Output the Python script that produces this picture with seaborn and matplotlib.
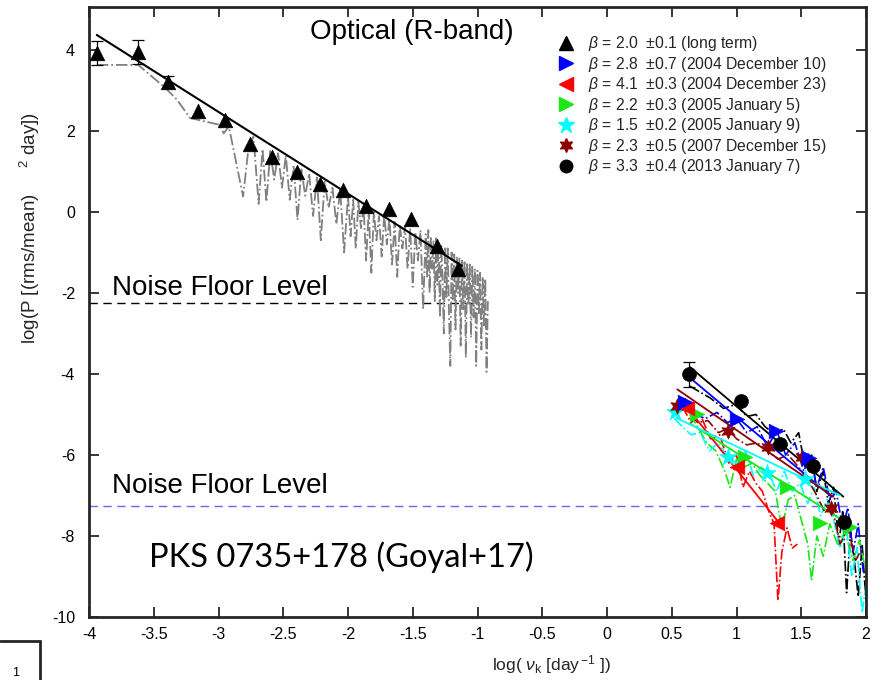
import numpy as np
import pandas as pd
import matplotlib
matplotlib.use("Agg")
import matplotlib.pyplot as plt
from matplotlib.lines import Line2D
import seaborn as sns

# ---------------- data ----------------
# long-term (binned) periodogram, optical R-band
lt_x = [-3.94, -3.62, -3.39, -3.16, -2.95, -2.76, -2.59, -2.39, -2.22, -2.04, -1.86, -1.68, -1.51, -1.31, -1.15]
lt_y = [3.93, 3.95, 3.21, 2.49, 2.27, 1.68, 1.36, 0.99, 0.69, 0.54, 0.15, 0.07, -0.17, -0.84, -1.41]
lt_err = [0.30, 0.30, 0.15, 0, 0, 0, 0, 0, 0, 0, 0, 0, 0, 0, 0]
lt_fit_x = [-3.94, -1.12]
lt_fit_y = [4.37, -1.33]

# raw long-term periodogram (grey dash-dot)
raw_x = [-3.94, -3.62, -3.41, -3.32, -3.22, -2.99, -2.96, -2.92, -2.81, -2.77,
         -2.73, -2.69, -2.66, -2.63, -2.60, -2.57, -2.54, -2.51, -2.48, -2.45,
         -2.42, -2.39, -2.36, -2.33, -2.30, -2.27, -2.24, -2.21, -2.18, -2.15,
         -2.12, -2.09, -2.06, -2.03, -2.00,
         -1.98, -1.96, -1.94, -1.92, -1.90, -1.88, -1.86, -1.84, -1.82, -1.80,
         -1.78, -1.76, -1.74, -1.72, -1.70, -1.68, -1.66, -1.64, -1.62, -1.60,
         -1.58, -1.56, -1.54, -1.52, -1.50, -1.48, -1.46, -1.44, -1.42, -1.40,
         -1.39, -1.38, -1.37, -1.36, -1.35, -1.34, -1.33, -1.32, -1.31, -1.30,
         -1.29, -1.28, -1.27, -1.26, -1.25, -1.24, -1.23, -1.22, -1.21, -1.20,
         -1.19, -1.18, -1.17, -1.16, -1.15, -1.14, -1.13, -1.12, -1.11, -1.10,
         -1.09, -1.08, -1.07, -1.06, -1.05, -1.04, -1.03, -1.02, -1.01, -1.00,
         -0.99, -0.98, -0.97, -0.96, -0.95, -0.94, -0.93, -0.92]
raw_y = [3.63, 3.63, 3.06, 2.77, 2.32, 2.15, 1.94, 2.11, 0.38, 1.53,
         1.86, 0.20, 1.55, 0.25, 1.50, 0.80, 1.45, 0.60, 1.40, 0.30,
         1.15, -0.20, 1.05, 0.40, 0.95, -0.10, 0.85, -0.70, 0.75, 0.10,
         0.60, -0.30, 0.55, -1.00, 0.40,
         -0.60, 0.30, -0.90, 0.25, -0.40, 0.15, -1.20, 0.05, -1.50, 0.00,
         -0.70, -0.10, -1.10, -0.05, -0.80, -0.15, -1.30, -0.25, -1.60, -0.30,
         -0.90, -0.35, -1.40, -0.40, -1.85, -0.50, -1.20, -0.45, -2.40, -0.55,
         -1.60, -0.45, -2.00, -0.60, -1.40, -0.70, -2.20, -0.65, -1.80, -0.75,
         -2.60, -0.80, -1.70, -3.00, -0.85, -2.10, -0.90, -2.50, -3.80, -1.00,
         -2.20, -1.05, -2.90, -1.10, -2.00, -1.15, -3.30, -1.20, -2.40, -1.20,
         -3.60, -1.25, -2.30, -1.30, -3.10, -1.35, -2.60, -1.40, -3.80, -1.45,
         -2.50, -1.50, -3.40, -1.60, -2.80, -1.65, -3.95, -2.20]

# intra-night sessions: binned points, fits, raw periodograms
bl_x = [0.636, 1.032, 1.336, 1.588, 1.83]
bl_y = [-4.01, -4.67, -5.73, -6.27, -7.65]
bl_err = [0.30, 0, 0, 0, 0]
bl_fit_x = [0.641, 1.825]
bl_fit_y = [-3.83, -7.03]
bl_raw_x = [0.64, 0.72, 0.80, 0.90, 1.00, 1.08, 1.15, 1.22, 1.30, 1.36, 1.42, 1.48, 1.53,
            1.58, 1.62, 1.67, 1.71, 1.75, 1.79, 1.82, 1.85, 1.88, 1.91, 1.94, 1.97, 2.0]
bl_raw_y = [-4.3, -4.45, -4.6, -4.85, -4.75, -5.05, -5.0, -5.3, -5.5, -5.35, -5.7, -5.45, -6.3,
            -6.0, -6.9, -6.4, -7.2, -6.8, -8.2, -7.4, -9.4, -7.9, -8.6, -9.5, -8.2, -9.6]

bu_x = [0.602, 1.0, 1.305, 1.562]
bu_y = [-4.68, -5.12, -5.40, -6.08]
bu_fit_x = [0.654, 1.735]
bu_fit_y = [-4.13, -7.03]
bu_raw_x = [0.60, 0.68, 0.76, 0.85, 0.93, 1.00, 1.08, 1.16, 1.24, 1.31, 1.38, 1.45,
            1.52, 1.57, 1.62, 1.67, 1.72, 1.77, 1.82, 1.86, 1.90, 1.94, 1.98]
bu_raw_y = [-4.6, -5.0, -5.1, -4.95, -5.2, -5.1, -5.45, -5.3, -5.8, -5.4, -6.0, -5.7,
            -6.4, -6.0, -6.8, -6.3, -7.1, -6.9, -7.8, -7.3, -8.4, -7.7, -8.9]

rd_x = [0.615, 1.0, 1.31]
rd_y = [-4.85, -6.29, -7.67]
rd_fit_x = [0.645, 1.31]
rd_fit_y = [-4.93, -7.6]
rd_raw_x = [0.58, 0.65, 0.72, 0.80, 0.87, 0.94, 1.00, 1.05, 1.10, 1.15, 1.20, 1.25,
            1.29, 1.32, 1.35, 1.39, 1.43, 1.47]
rd_raw_y = [-4.8, -5.2, -5.0, -5.6, -5.5, -6.2, -6.0, -6.8, -6.4, -6.7, -6.9, -7.4,
            -7.7, -9.6, -8.4, -7.8, -8.3, -8.2]

gr_x = [0.693, 1.066, 1.388, 1.645, 1.877]
gr_y = [-4.99, -6.04, -6.78, -7.67, -7.77]
gr_fit_x = [0.641, 1.877]
gr_fit_y = [-5.22, -7.73]
gr_raw_x = [0.64, 0.70, 0.77, 0.84, 0.91, 0.95, 1.00, 1.06, 1.12, 1.18, 1.24, 1.30, 1.35,
            1.40, 1.45, 1.50, 1.55, 1.58, 1.62, 1.67, 1.72, 1.78, 1.84, 1.90, 1.95, 2.0]
gr_raw_y = [-5.0, -5.3, -5.7, -5.9, -6.4, -6.8, -6.1, -6.3, -6.2, -6.5, -6.7, -6.9, -7.8,
            -7.1, -7.0, -7.6, -8.2, -9.1, -8.0, -8.5, -7.7, -8.2, -7.9, -8.6, -8.1, -8.9]

cy_x = [0.525, 0.937, 1.233, 1.53]
cy_y = [-4.93, -6.04, -6.45, -6.60]
cy_fit_x = [0.538, 1.80]
cy_fit_y = [-5.09, -7.0]
cy_raw_x = [0.52, 0.58, 0.65, 0.72, 0.79, 0.86, 0.93, 1.00, 1.07, 1.13, 1.19, 1.25, 1.31, 1.37,
            1.43, 1.49, 1.55, 1.60, 1.65, 1.70, 1.75, 1.80, 1.85, 1.89, 1.93, 1.97, 2.0]
cy_raw_y = [-5.1, -5.3, -5.5, -5.45, -5.9, -5.7, -6.05, -6.2, -5.9, -6.5, -6.3, -6.45, -6.9, -6.4,
            -6.9, -6.7, -7.2, -6.8, -7.5, -7.1, -7.6, -8.3, -7.8, -9.0, -8.3, -9.9, -9.2]

mr_x = [0.543, 0.937, 1.246, 1.503, 1.727]
mr_y = [-4.79, -5.42, -5.81, -6.04, -7.32]
mr_fit_x = [0.543, 1.748]
mr_fit_y = [-4.38, -7.03]
mr_raw_x = [0.54, 0.62, 0.70, 0.78, 0.86, 0.93, 1.00, 1.08, 1.16, 1.24, 1.32, 1.40, 1.48,
            1.55, 1.62, 1.68, 1.74, 1.80, 1.86, 1.92, 1.97]
mr_raw_y = [-4.75, -4.9, -5.2, -5.15, -5.45, -5.35, -5.6, -5.75, -5.7, -5.9, -6.1, -6.0, -6.3,
            -6.6, -7.0, -7.4, -7.3, -8.2, -7.8, -8.6, -8.3]

noise_opt = -2.25
noise_opt_x = [-4.0, -1.0]
noise_intra = -7.26
noise_intra_x = [-4.0, 2.0]

legend_labels = [
    r"$\beta$ = 2.0  $\pm$0.1 (long term)",
    r"$\beta$ = 2.8  $\pm$0.7 (2004 December 10)",
    r"$\beta$ = 4.1  $\pm$0.3 (2004 December 23)",
    r"$\beta$ = 2.2  $\pm$0.3 (2005 January 5)",
    r"$\beta$ = 1.5  $\pm$0.2 (2005 January 9)",
    r"$\beta$ = 2.3  $\pm$0.5 (2007 December 15)",
    r"$\beta$ = 3.3  $\pm$0.4 (2013 January 7)",
]

x_ticks = [-4, -3.5, -3, -2.5, -2, -1.5, -1, -0.5, 0, 0.5, 1, 1.5, 2]
x_ticklabels = ["-4", "-3.5", "-3", "-2.5", "-2", "-1.5", "-1", "-0.5", "0", "0.5", "1", "1.5", "2"]
y_ticks = [-10, -8, -6, -4, -2, 0, 2, 4]
y_ticklabels = ["-10", "-8", "-6", "-4", "-2", "0", "2", "4"]

# ---------------- style ----------------
sns.set_theme(style="ticks")
plt.rcParams["font.family"] = ["Liberation Sans", "DejaVu Sans"]
plt.rcParams["axes.unicode_minus"] = False
plt.rcParams["mathtext.fontset"] = "custom"
plt.rcParams["mathtext.rm"] = "Liberation Sans"
plt.rcParams["mathtext.it"] = "Liberation Sans:italic"

MAROON = (0.55, 0.0, 0.0)
GREEN = (0.1, 0.9, 0.1)
GREY = (0.5, 0.5, 0.5)
HEX = (6, 1, 0)

fig = plt.figure(figsize=(8.84, 6.8), dpi=100)
ax = fig.add_axes([89 / 884, 1 - 617 / 680, (866 - 89) / 884, (617 - 7) / 680])

def line(x, y, color, ls="-", lw=1.3, z=2):
    df = pd.DataFrame({"x": x, "y": y})
    sns.lineplot(data=df, x="x", y="y", ax=ax, color=color, linestyle=ls, lw=lw,
                 sort=False, estimator=None, zorder=z, legend=False)

# noise floors
line(noise_opt_x, [noise_opt, noise_opt], "black", ls=(0, (6, 4)), lw=1.0, z=1)
line(noise_intra_x, [noise_intra, noise_intra], (0.4, 0.4, 1.0), ls=(0, (6, 4)), lw=1.0, z=1)

# raw periodograms
line(raw_x, raw_y, GREY, ls="-.", lw=1.3, z=1)
for rx, ry, c in [(bl_raw_x, bl_raw_y, "black"), (bu_raw_x, bu_raw_y, "blue"),
                  (rd_raw_x, rd_raw_y, "red"), (gr_raw_x, gr_raw_y, GREEN),
                  (cy_raw_x, cy_raw_y, "cyan"), (mr_raw_x, mr_raw_y, MAROON)]:
    line(rx, ry, c, ls="-.", lw=1.2, z=2)

# fits
line(lt_fit_x, lt_fit_y, "black", lw=1.5, z=3)
for fx, fy, c in [(bl_fit_x, bl_fit_y, "black"), (bu_fit_x, bu_fit_y, "blue"),
                  (rd_fit_x, rd_fit_y, "red"), (gr_fit_x, gr_fit_y, GREEN),
                  (cy_fit_x, cy_fit_y, "cyan"), (mr_fit_x, mr_fit_y, MAROON)]:
    line(fx, fy, c, lw=1.3, z=3)

# error bars
for ex, ey, ee in [(lt_x, lt_y, lt_err), (bl_x, bl_y, bl_err)]:
    sel = [i for i, e in enumerate(ee) if e > 0]
    ax.errorbar([ex[i] for i in sel], [ey[i] for i in sel], yerr=[ee[i] for i in sel],
                fmt="none", ecolor="black", elinewidth=0.9, capsize=4, capthick=0.9, zorder=4)

# markers
def pts(x, y, color, marker, s):
    df = pd.DataFrame({"x": x, "y": y})
    sns.scatterplot(data=df, x="x", y="y", ax=ax, color=color, marker=marker, s=s,
                    edgecolor=color, linewidth=0.5, zorder=5, legend=False)

pts(lt_x, lt_y, "black", "^", 110)
pts(cy_x, cy_y, "cyan", "*", 170)
pts(mr_x, mr_y, MAROON, HEX, 120)
pts(gr_x, gr_y, GREEN, ">", 110)
pts(rd_x, rd_y, "red", "<", 110)
pts(bu_x, bu_y, "blue", ">", 110)
pts(bl_x, bl_y, "black", "o", 100)

# legend
handles = [
    Line2D([], [], ls="none", marker="^", color="black", ms=10),
    Line2D([], [], ls="none", marker=">", color="blue", ms=10),
    Line2D([], [], ls="none", marker="<", color="red", ms=10),
    Line2D([], [], ls="none", marker=">", color=GREEN, ms=10),
    Line2D([], [], ls="none", marker="*", color="cyan", ms=12),
    Line2D([], [], ls="none", marker=HEX, color=MAROON, ms=10),
    Line2D([], [], ls="none", marker="o", color="black", ms=9),
]
leg = ax.legend(handles, legend_labels, loc="upper left", bbox_to_anchor=(0.594, 0.966),
                frameon=False, fontsize=11.3, labelspacing=0.1, handlelength=1.2,
                handletextpad=0.8, borderaxespad=0)

# texts
ax.text(-3.82, -2.05, "Noise Floor Level", fontsize=20, color="black")
ax.text(-3.82, -6.94, "Noise Floor Level", fontsize=20, color="black")
ax.text(-1.51, 4.27, "Optical (R-band)", fontsize=20, ha="center", color="black")
ax.text(-3.537, -8.77, "PKS 0735+178 (Goyal+17)", fontsize=23.5, color="black",
        family=["Lato", "DejaVu Sans"])

# axes
ax.set_xlim(-4, 2)
ax.set_ylim(-10, 5.06)
ax.set_xticks(x_ticks)
ax.set_xticklabels(x_ticklabels)
ax.set_yticks(y_ticks)
ax.set_yticklabels(y_ticklabels)
for lab in ax.get_xticklabels() + ax.get_yticklabels():
    lab.set_family(["Liberation Sans Narrow", "Liberation Sans"])
    lab.set_fontsize(11.5)
ax.tick_params(direction="in", length=7, width=1.3, top=True, right=True,
               colors="#262626", labelcolor="black")
ax.tick_params(axis="x", pad=7)
ax.tick_params(axis="y", pad=10)
for sp in ax.spines.values():
    sp.set_visible(True)
    sp.set_linewidth(2.0)
    sp.set_color("#262626")

ax.set_xlabel(r"log( $\nu_{\mathrm{k}}$ [day$^{\,\mathrm{-1}}$ ])", fontsize=12.5,
              family=["Liberation Sans Narrow", "Liberation Sans"])
ax.set_ylabel(r"log(P [(rms/mean)     $^{\mathrm{2}}$ day])", fontsize=13.5,
              family=["Liberation Sans Narrow", "Liberation Sans"])
ax.xaxis.set_label_coords(0.596, -0.060)
ax.yaxis.set_label_coords(-0.060, 0.638)

# fragment of a neighbouring panel in the bottom-left corner
fig.add_artist(Line2D([0, 40 / 884], [1 - 641 / 680, 1 - 641 / 680], color="#262626", lw=2,
                      transform=fig.transFigure))
fig.add_artist(Line2D([40 / 884, 40 / 884], [1 - 641 / 680, 0], color="#262626", lw=2,
                      transform=fig.transFigure))
fig.text(12 / 884, 1 - 676 / 680, "1", fontsize=9, color="black")

fig.savefig("out.png", dpi=100, facecolor="white")
